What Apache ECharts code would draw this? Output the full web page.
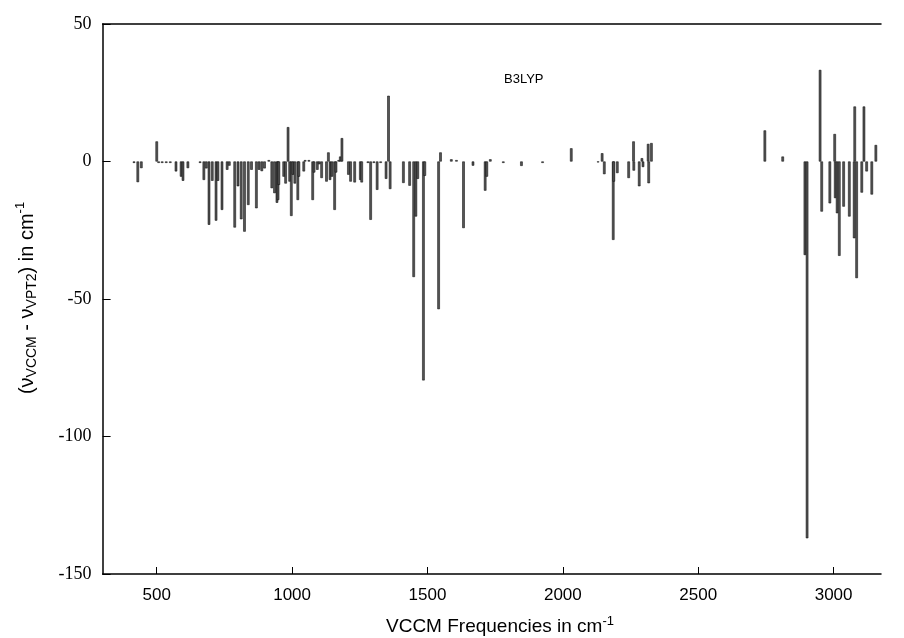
<!DOCTYPE html>
<html>
<head>
<meta charset="utf-8">
<script src="https://cdn.jsdelivr.net/npm/echarts@6/dist/echarts.min.js"></script>
<style>
  html, body { margin: 0; padding: 0; background: #fff; }
  #chart { width: 904px; height: 638px; }
</style>
</head>
<body>
<div id="chart"></div>
<script>
// VCCM frequencies (cm-1) and the VCCM - VPT2 differences
var freqs = [
  416, 430, 443, 500, 507, 520, 535, 550, 571, 590, 597, 615, 660, 674, 683, 693, 705, 719, 726, 741,
  760, 768, 788, 800, 812, 824, 838, 850, 868, 878, 888, 898, 914, 925, 935, 944, 948, 951, 969, 976,
  985, 991, 997, 1003, 1010, 1021, 1025, 1043, 1048, 1062, 1076, 1081, 1093, 1100, 1109, 1127, 1134, 1140, 1147, 1157,
  1162, 1172, 1178, 1184, 1208, 1216, 1231, 1252, 1257, 1280, 1290, 1302, 1314, 1327, 1347, 1356, 1362, 1411, 1434, 1449,
  1457, 1464, 1485, 1490, 1541, 1548, 1588, 1607, 1633, 1668, 1713, 1719, 1732, 1780, 1847, 1925, 2031, 2130, 2145, 2153,
  2186, 2188, 2201, 2243, 2261, 2262, 2282, 2292, 2296, 2315, 2317, 2327, 2746, 2812, 2894, 2902, 2950, 2956, 2986, 3004,
  3006, 3013, 3021, 3037, 3058, 3076, 3078, 3085, 3104, 3112, 3122, 3141, 3156
];
var deltas = [
  -0.5, -7.5, -2.4, 7.3, -0.5, -0.5, -0.5, -0.5, -3.6, -5.5, -7, -2.4, -0.5, -6.7, -2.5, -23, -7, -21.5, -7, -17.6,
  -3, -1.5, -24, -9, -21, -25.5, -15.8, -3, -17, -3, -3.5, -2.5, 0.5, -9.7, -11.5, -15, -14, -8.5, -5.5, -8,
  12.5, -7.3, -19.8, -4.8, -8, -14, -5.5, -3.6, 0.5, 0.5, -14, -4, -3, -1, -6, -7.3, 3.3, -6.7, -5.5, -17.6,
  -4, 0.5, 1.8, 8.5, -4.8, -7.3, -7.6, -6.7, -7.6, -0.5, -21.2, -0.5, -10.3, -0.5, -6.3, 23.9, -10, -7.8, -8.8, -42,
  -20, -6.3, -79.6, -5.2, -53.7, 3.3, 0.8, 0.5, -24.2, -1.5, -10.6, -5.5, 0.8, -0.5, -1.6, -0.5, 4.8, -0.3, 3, -4.6,
  -28.5, -7.3, -4.2, -6, 7.3, -3.3, -9, 1.2, -2, 6.4, -7.9, 6.7, 11.3, 1.8, -34, -137, 33.3, -18.2, -15.2, 10,
  -13.3, -18.8, -34.3, -16.4, -20, -27.9, 20, -42.4, -11.3, 20, -3.6, -12, 6
];
var xTicks = [500, 1000, 1500, 2000, 2500, 3000];

var chart = echarts.init(document.getElementById('chart'));

var points = [];
for (var i = 0; i < freqs.length; i++) {
  points.push([freqs[i], deltas[i]]);
}

chart.setOption({
  animation: false,
  backgroundColor: '#fff',
  grid: { left: 102.6, right: 23, top: 24, bottom: 64 },
  xAxis: [{
    type: 'value',
    min: 300,
    max: 3175,
    position: 'bottom',
    splitLine: { show: false },
    axisLine: { onZero: false, lineStyle: { color: '#000', width: 1.5 } },
    axisTick: { inside: true, length: 7, customValues: xTicks, lineStyle: { color: '#000' } },
    axisLabel: {
      customValues: xTicks, margin: 13,
      formatter: function (v) { return String(v); },
      color: '#000', fontFamily: 'Liberation Sans', fontSize: 17
    }
  }, {
    type: 'value',
    min: 300,
    max: 3175,
    position: 'top',
    splitLine: { show: false },
    axisLine: { onZero: false, lineStyle: { color: '#000', width: 1.5 } },
    axisTick: { show: false },
    axisLabel: { show: false }
  }],
  yAxis: {
    type: 'value',
    min: -150,
    max: 50,
    interval: 50,
    splitLine: { show: false },
    axisLine: { onZero: false, lineStyle: { color: '#000', width: 1.5 } },
    axisTick: { inside: true, length: 8, lineStyle: { color: '#000' } },
    axisLabel: { margin: 11, color: '#000', fontFamily: 'Liberation Serif', fontSize: 18 }
  },
  series: [{
    type: 'bar',
    data: points,
    barWidth: 2.5,
    itemStyle: { color: '#555', borderColor: '#000', borderWidth: 0.5 }
  }],
  graphic: [{
    type: 'text',
    left: 504, top: 73,
    style: { text: 'B3LYP', fill: '#000', font: '13px "Liberation Sans"' }
  }, {
    type: 'text',
    x: 500, y: 627,
    style: {
      text: '{t|VCCM Frequencies in cm}{s|-1}',
      align: 'center', verticalAlign: 'middle',
      rich: {
        t: { fontFamily: 'Liberation Sans', fontSize: 19, fill: '#000' },
        s: { fontFamily: 'Liberation Sans', fontSize: 13, fill: '#000', padding: [0, 0, 12, 0] }
      }
    }
  }, {
    type: 'text',
    x: 27, y: 298,
    rotation: Math.PI / 2,
    style: {
      text: '{t|(\u03bd}{b|VCCM}{t| - \u03bd}{b|VPT2}{t|) in cm}{s|-1}',
      align: 'center', verticalAlign: 'middle',
      rich: {
        t: { fontFamily: 'Liberation Sans', fontSize: 20, fill: '#000' },
        b: { fontFamily: 'Liberation Sans', fontSize: 14, fill: '#000', padding: [11, 0, 0, 0] },
        s: { fontFamily: 'Liberation Sans', fontSize: 13, fill: '#000', padding: [0, 0, 13, 0] }
      }
    }
  }]
});
</script>
</body>
</html>
